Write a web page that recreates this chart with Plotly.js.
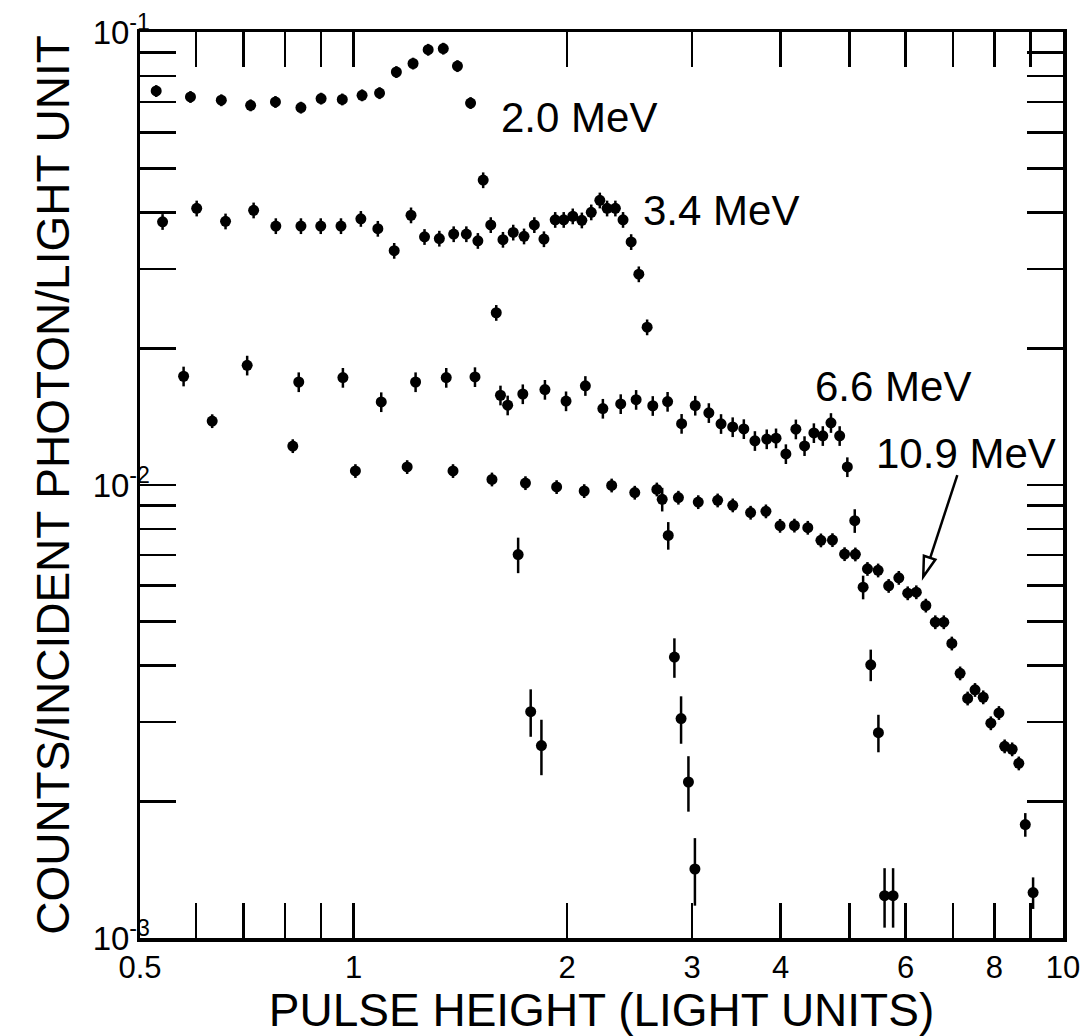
<!DOCTYPE html>
<html>
<head>
<meta charset="utf-8">
<script src="https://cdn.plot.ly/plotly-3.0.1.min.js"></script>
<style>
  html, body { margin: 0; padding: 0; background: #ffffff; }
  #chart { width: 1089px; height: 1036px; }
</style>
</head>
<body>
<div id="chart"></div>
<script>
// ---- Data (pulse height in light units, counts / incident photon / light unit)
const e20_x = [0.527, 0.589, 0.651, 0.716, 0.776, 0.843, 0.900, 0.964, 1.028, 1.088, 1.149, 1.213, 1.274, 1.338, 1.401, 1.462, 1.523, 1.589, 1.706, 1.777, 1.840];
const e20_y = [0.0741, 0.0719, 0.0707, 0.0689, 0.0701, 0.0681, 0.0713, 0.0710, 0.0725, 0.0733, 0.0816, 0.0852, 0.0914, 0.0919, 0.0841, 0.0697, 0.0471, 0.0240, 0.00702, 0.00316, 0.00266];
const e20_err = [3, 3, 3, 3, 3, 3, 3, 3, 3, 3, 3, 3, 3, 3, 3, 3, 4, 4, 9, 12, 14];

const e34_x = [0.538, 0.601, 0.660, 0.723, 0.777, 0.843, 0.899, 0.960, 1.024, 1.082, 1.141, 1.205, 1.259, 1.321, 1.384, 1.442, 1.497, 1.561, 1.624, 1.679, 1.739, 1.798, 1.855, 1.924, 1.978, 2.037, 2.098, 2.163, 2.224, 2.277, 2.339, 2.398, 2.462, 2.524, 2.593, 2.723, 2.777, 2.833, 2.895, 2.965, 3.028];
const e34_y = [0.0381, 0.0408, 0.0382, 0.0404, 0.0373, 0.0373, 0.0373, 0.0373, 0.0387, 0.0368, 0.0329, 0.0394, 0.0353, 0.0350, 0.0358, 0.0358, 0.0346, 0.0375, 0.0348, 0.0361, 0.0354, 0.0375, 0.0349, 0.0385, 0.0385, 0.0392, 0.0384, 0.0400, 0.0425, 0.0408, 0.0408, 0.0385, 0.0344, 0.0292, 0.0223, 0.00930, 0.00774, 0.00417, 0.00305, 0.00221, 0.00142];
const e34_err = [4, 4, 4, 4, 4, 4, 4, 4, 4, 4, 4, 4, 4, 4, 4, 4, 4, 4, 4, 4, 4, 4, 4, 4, 4, 4, 4, 4, 4, 4, 4, 4, 4, 4, 4, 6, 7, 10, 12, 14, 17];

const e66_x = [0.576, 0.708, 0.837, 0.966, 1.094, 1.223, 1.351, 1.483, 1.611, 1.649, 1.732, 1.861, 1.993, 2.122, 2.246, 2.380, 2.502, 2.641, 2.771, 2.900, 3.031, 3.168, 3.296, 3.423, 3.549, 3.679, 3.823, 3.940, 4.068, 4.202, 4.322, 4.455, 4.586, 4.709, 4.844, 4.966, 5.087, 5.227, 5.358, 5.493, 5.604, 5.761];
const e66_y = [0.01738, 0.01837, 0.01688, 0.01726, 0.01525, 0.01688, 0.01726, 0.01732, 0.01578, 0.01500, 0.01588, 0.01624, 0.01532, 0.01656, 0.01475, 0.01510, 0.01543, 0.01496, 0.01528, 0.01366, 0.01498, 0.01443, 0.01365, 0.01343, 0.01330, 0.01252, 0.01263, 0.01269, 0.01171, 0.01328, 0.01220, 0.01303, 0.01284, 0.01372, 0.01284, 0.01096, 0.00834, 0.00595, 0.00401, 0.00284, 0.00124, 0.00124];
const e66_err = [5, 5, 5, 5, 5, 5, 5, 5, 5, 5, 5, 5, 5, 5, 5, 5, 5, 5, 5, 5, 5, 5, 5, 5, 5, 5, 5, 5, 5, 5, 5, 5, 5, 5, 5, 5, 6, 6, 8, 9.5, 15, 15];

const e109_x = [0.632, 0.821, 1.006, 1.190, 1.381, 1.567, 1.747, 1.933, 2.114, 2.311, 2.491, 2.676, 2.870, 3.061, 3.260, 3.424, 3.628, 3.813, 3.992, 4.182, 4.368, 4.558, 4.732, 4.922, 5.097, 5.301, 5.488, 5.679, 5.869, 6.041, 6.212, 6.407, 6.607, 6.792, 6.971, 7.161, 7.338, 7.516, 7.719, 7.912, 8.123, 8.275, 8.479, 8.664, 8.848, 9.075];
const e109_y = [0.01384, 0.01219, 0.01074, 0.01096, 0.01074, 0.01029, 0.01010, 0.00990, 0.00970, 0.00998, 0.00962, 0.00978, 0.00938, 0.00917, 0.00925, 0.00902, 0.00869, 0.00875, 0.00813, 0.00814, 0.00805, 0.00755, 0.00756, 0.00704, 0.00703, 0.00653, 0.00648, 0.00599, 0.00624, 0.00577, 0.00580, 0.00542, 0.00498, 0.00498, 0.00447, 0.00384, 0.00338, 0.00353, 0.00340, 0.00298, 0.00314, 0.00265, 0.00261, 0.00243, 0.00178, 0.00126];
const e109_err = [3.5, 3.5, 3.5, 3.5, 3.5, 3.5, 3.5, 3.5, 3.5, 3.5, 3.5, 3.5, 3.5, 3.5, 3.5, 3.5, 3.5, 3.5, 3.5, 3.5, 3.5, 3.5, 3.5, 3.5, 3.5, 3.5, 3.5, 3.5, 3.5, 3.5, 3.5, 3.5, 3.5, 3.5, 3.5, 3.5, 3.5, 3.5, 3.5, 3.5, 3.5, 3.5, 3.5, 3.5, 6, 8];

const seriesNames = ['2.0 MeV', '3.4 MeV', '6.6 MeV', '10.9 MeV'];

const xTickVals = [0.5, 0.6, 0.7, 0.8, 0.9, 1, 2, 3, 4, 5, 6, 7, 8, 9, 10];
const xTickText = ['0.5', '', '', '', '', '1', '2', '3', '4', '', '6', '', '8', '', '10'];
const yDecades = [0.001, 0.01, 0.1];
const yDecadeText = ['10<sup>-3</sup>', '10<sup>-2</sup>', '10<sup>-1</sup>'];

const xTitle = 'PULSE HEIGHT (LIGHT UNITS)';
const yTitle = 'COUNTS/INCIDENT PHOTON/LIGHT UNIT';

// ---- build
const FONT = 'Liberation Sans, Arial, sans-serif';

function makeTrace(name, xs, ys, errPct) {
  return {
    type: 'scatter', mode: 'markers', name: name,
    x: xs, y: ys,
    marker: { color: '#000000', size: 11, line: { width: 0 } },
    error_y: {
      type: 'data', symmetric: false,
      array: ys.map((v, i) => v * errPct[i] / 100),
      arrayminus: ys.map((v, i) => v * errPct[i] / 100),
      color: '#000000', thickness: 2.5, width: 0
    },
    hoverinfo: 'x+y+name'
  };
}

const traces = [
  makeTrace(seriesNames[0], e20_x, e20_y, e20_err),
  makeTrace(seriesNames[1], e34_x, e34_y, e34_err),
  makeTrace(seriesNames[2], e66_x, e66_y, e66_err),
  makeTrace(seriesNames[3], e109_x, e109_y, e109_err)
];

// y ticks: every 1..9 x decade, labels on decades only
const yTickVals = [];
const yTickText = [];
[0.001, 0.01].forEach(function (d) {
  for (let m = 1; m <= 9; m++) {
    const v = +(d * m).toPrecision(3);
    yTickVals.push(v);
    const k = yDecades.indexOf(v);
    yTickText.push(k >= 0 ? yDecadeText[k] : '');
  }
});
yTickVals.push(0.1);
yTickText.push(yDecadeText[2]);

const labelFont = { family: FONT, size: 42, color: '#000000' };

// pointer arrow for the 10.9 MeV label (paper coordinates)
const arrowTail = [0.8855, 0.5110];
const arrowBase = [0.8562, 0.4198];
const arrowTip = [0.8486, 0.3988];
const arrowC1 = [0.8617, 0.4177];
const arrowC2 = [0.8493, 0.4219];

const layout = {
  width: 1089, height: 1036,
  margin: { l: 140, r: 26, t: 32, b: 98, pad: 0 },
  paper_bgcolor: '#ffffff', plot_bgcolor: '#ffffff',
  showlegend: false,
  font: { family: FONT, color: '#000000' },
  xaxis: {
    type: 'log', range: [Math.log10(0.5), 1],
    tickmode: 'array', tickvals: xTickVals, ticktext: xTickText,
    ticks: 'inside', ticklen: 35, tickwidth: 2.5, tickcolor: '#000000',
    showline: true, linewidth: 3.5, linecolor: '#000000', mirror: 'ticks',
    showgrid: false, zeroline: false,
    tickfont: { family: FONT, size: 31, color: '#000000' },
    ticklabelstandoff: -1,
    title: { text: xTitle, font: { family: FONT, size: 46, color: '#000000' }, standoff: 26 }
  },
  yaxis: {
    type: 'log', range: [-3, -1],
    tickmode: 'array', tickvals: yTickVals, ticktext: yTickText,
    ticks: 'inside', ticklen: 36, tickwidth: 2.5, tickcolor: '#000000',
    showline: true, linewidth: 3.5, linecolor: '#000000', mirror: 'ticks',
    showgrid: false, zeroline: false,
    tickfont: { family: FONT, size: 33, color: '#000000' },
    ticklabelstandoff: -20,
    title: { text: yTitle, font: { family: FONT, size: 46, color: '#000000' }, standoff: 9 }
  },
  shapes: [
    { type: 'line', xref: 'paper', yref: 'paper',
      x0: arrowTail[0], y0: arrowTail[1], x1: arrowBase[0], y1: arrowBase[1],
      line: { color: '#000000', width: 2.5 } },
    { type: 'path', xref: 'paper', yref: 'paper',
      path: 'M' + arrowTip[0] + ',' + arrowTip[1] + ' L' + arrowC1[0] + ',' + arrowC1[1] + ' L' + arrowC2[0] + ',' + arrowC2[1] + ' Z',
      fillcolor: '#ffffff', line: { color: '#000000', width: 2.5 } }
  ],
  annotations: [
    { xref: 'paper', yref: 'paper', x: 0.476, y: 0.9056, text: seriesNames[0], showarrow: false, xanchor: 'center', yanchor: 'middle', font: labelFont },
    { xref: 'paper', yref: 'paper', x: 0.6295, y: 0.8035, text: seriesNames[1], showarrow: false, xanchor: 'center', yanchor: 'middle', font: labelFont },
    { xref: 'paper', yref: 'paper', x: 0.8162, y: 0.6085, text: seriesNames[2], showarrow: false, xanchor: 'center', yanchor: 'middle', font: labelFont },
    { xref: 'paper', yref: 'paper', x: 0.895, y: 0.5353, text: seriesNames[3], showarrow: false, xanchor: 'center', yanchor: 'middle', font: labelFont }
  ]
};

Plotly.newPlot('chart', traces, layout, { displayModeBar: false, responsive: false, staticPlot: true });
</script>
</body>
</html>
